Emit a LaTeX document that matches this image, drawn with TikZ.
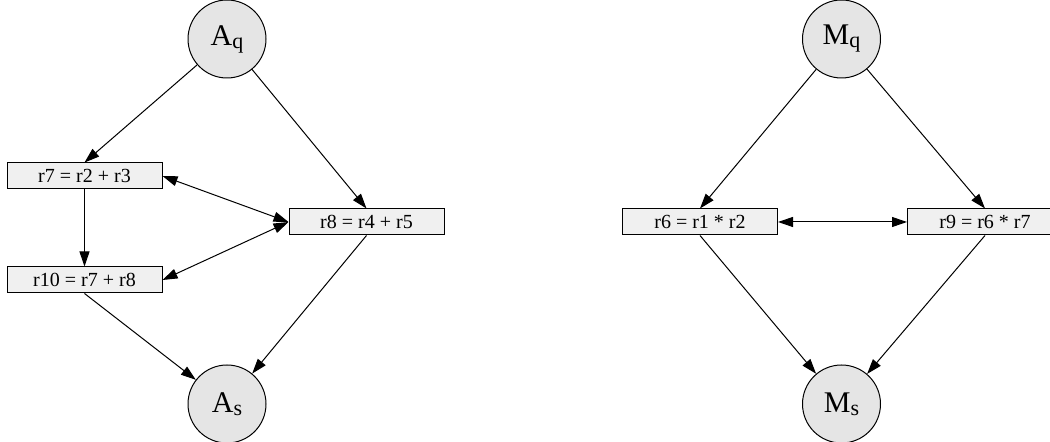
\documentclass[tikz,border=0pt]{standalone}
\usepackage{fontspec}
\setmainfont{Liberation Serif}
\usepackage{tikz}
\usetikzlibrary{positioning, arrows.meta}
\definecolor{opgray}{RGB}{229, 229, 229}
\definecolor{boxgray}{RGB}{240, 240, 240}
\newcommand{\opsub}[2]{#1\raisebox{-1.5pt}{\fontsize{11}{11}\selectfont #2}}

\begin{document}
\begin{tikzpicture}[x=0.5pt, y=-0.5pt, line width=0.5pt,
    every node/.style={align=center, inner sep=0pt},
    opnode/.style={draw, circle, fill=opgray, minimum size=39pt, font=\fontsize{15}{18}\selectfont},
    regbox/.style={draw, rectangle, fill=boxgray, minimum width=77.5pt, minimum height=13pt, font=\fontsize{10}{12}\selectfont},
    edge/.style={-{Triangle[length=7.5pt, width=5pt]}},
    biedge/.style={{Triangle[length=7.5pt, width=5pt]}-{Triangle[length=7.5pt, width=5pt]}}]
    \clip (0,0) rectangle (1050,442);

    % addition group
    \node[opnode] (aq) at (227,39) {\opsub{A}{q}};
    \node[opnode] (as) at (227,404) {\opsub{A}{s}};
    \node[regbox] (r7) at (84.5,176) {r7 = r2 + r3};
    \node[regbox, below=38.5pt of r7] (r10) {r10 = r7 + r8};
    \node[regbox] (r8) at (366.5,222) {r8 = r4 + r5};

    \draw[edge] (aq) -- (r7.north);
    \draw[edge] (aq) -- (r8.north);
    \draw[edge] (r7) -- (r10);
    \draw[biedge] (r7.east) -- (r8.west);
    \draw[biedge] (r10.east) -- (r8.west);
    \draw[edge] (r10.south) -- (as);
    \draw[edge] (r8.south) -- (as);

    % multiplication group
    \node[opnode] (mq) at (841.5,39) {\opsub{M}{q}};
    \node[opnode] (ms) at (841.5,404) {\opsub{M}{s}};
    \node[regbox] (r6) at (700,222) {r6 = r1 * r2};
    \node[regbox, right=64.5pt of r6] (r9) {r9 = r6 * r7};

    \draw[edge] (mq) -- (r6.north);
    \draw[edge] (mq) -- (r9.north);
    \draw[biedge] (r6) -- (r9);
    \draw[edge] (r6.south) -- (ms);
    \draw[edge] (r9.south) -- (ms);
\end{tikzpicture}
\end{document}
